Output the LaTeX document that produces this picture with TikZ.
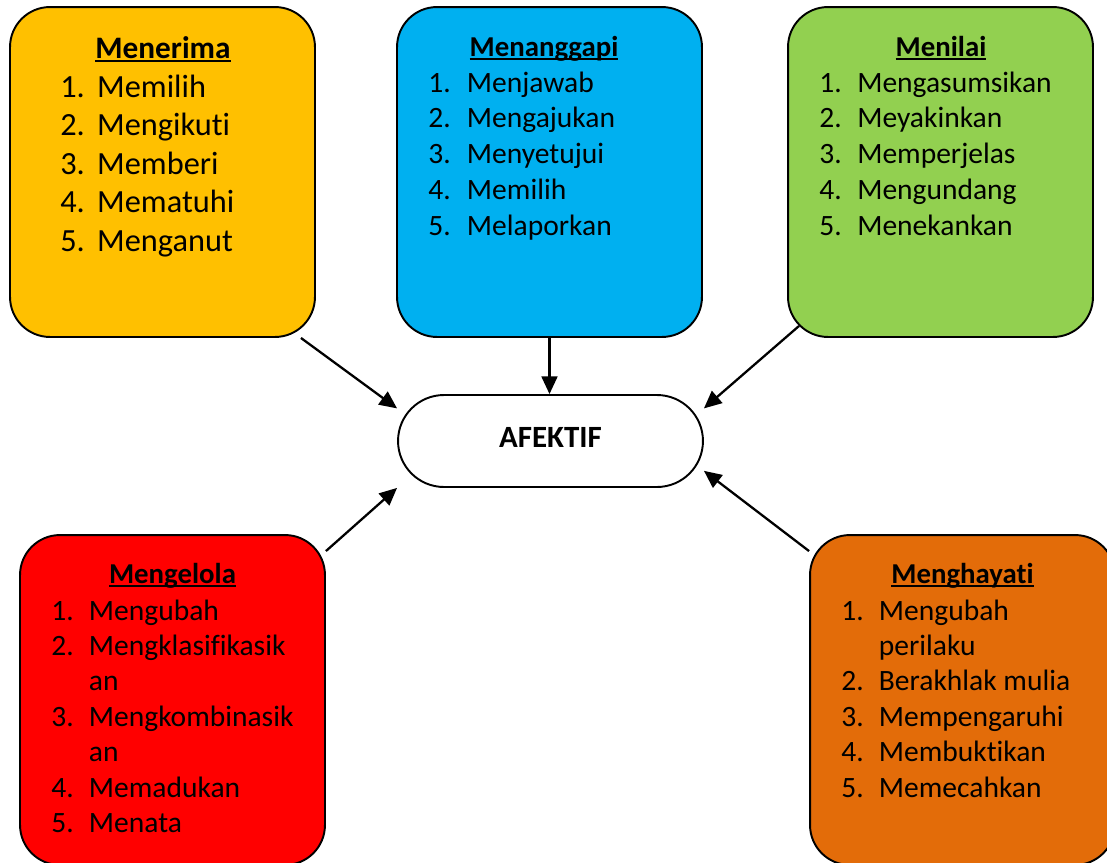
\documentclass[tikz,border=0pt]{standalone}
\usepackage{fontspec}
\setmainfont{Carlito}[Ligatures=NoCommon]
\usetikzlibrary{arrows.meta}
\definecolor{kuning}{HTML}{FFC000}
\definecolor{biru}{HTML}{00B0F0}
\definecolor{hijau}{HTML}{92D050}
\definecolor{merah}{HTML}{FF0000}
\definecolor{oranye}{HTML}{E36C09}
\newcommand\garis[1]{\setbox0\hbox{#1}\rlap{\rule[-2.4pt]{\wd0}{1.1pt}}\box0}
\tikzset{
  kotak/.style={draw, line width=1.1pt, rounded corners=0.8cm, minimum width=6.1cm, minimum height=6.6cm, inner sep=0pt},
  judul/.style={anchor=base, inner sep=0pt, font=\fontsize{16.4}{20.4}\selectfont\bfseries},
  isi/.style={anchor=base west, inner sep=0pt, font=\fontsize{16.8}{20.4}\selectfont},
  panah/.style={-{Triangle[length=10pt,width=9pt]}, line width=1.3pt}
}
\begin{document}
\begin{tikzpicture}[x=0.02cm,y=-0.02cm]
\useasboundingbox (0,0) rectangle (1107,863);
\clip (0,0) rectangle (1107,863);
\node[kotak, fill=kuning] (menerima) at (162.5,172) {};
\node[kotak, fill=biru] (menanggapi) at (549.5,172) {};
\node[kotak, fill=hijau] (menilai) at (940.5,172) {};
\node[kotak, fill=merah] (mengelola) at (172.5,700) {};
\node[kotak, fill=oranye] (menghayati) at (962.5,700) {};
\node[draw, line width=1.1pt, rounded corners=0.92cm, minimum width=6.1cm, minimum height=1.84cm, fill=white] (afektif) at (550.5,441) {};
\node[judul, font=\fontsize{17.6}{20}\selectfont\bfseries] (afektiftxt) at (550.5,447) {AFEKTIF};

\node[judul, font=\fontsize{17.8}{22}\selectfont\bfseries] (t1) at (163,58) {\garis{Menerima}};
\node[isi, font=\fontsize{18.4}{22}\selectfont] (l1) at (60,97) {\begin{tabular}[t]{@{}p{21pt}@{}l@{}}
1.&Memilih\\2.&Mengikuti\\3.&Memberi\\4.&Mematuhi\\5.&Menganut\end{tabular}};

\node[judul] (t2) at (544,56) {\garis{Menanggapi}};
\node[isi] (l2) at (428,92) {\begin{tabular}[t]{@{}p{22pt}@{}l@{}}
1.&Menjawab\\2.&Mengajukan\\3.&Menyetujui\\4.&Memilih\\5.&Melaporkan\end{tabular}};

\node[judul] (t3) at (941,56) {\garis{Menilai}};
\node[isi] (l3) at (819,92) {\begin{tabular}[t]{@{}p{21.6pt}@{}l@{}}
1.&Mengasumsikan\\2.&Meyakinkan\\3.&Memperjelas\\4.&Mengundang\\5.&Menekankan\end{tabular}};

\node[judul] (t4) at (172.5,583) {\garis{Mengelola}};
\node[isi, font=\fontsize{16.8}{20.2}\selectfont] (l4) at (51,620) {\begin{tabular}[t]{@{}p{21.4pt}@{}l@{}}
1.&Mengubah\\2.&Mengklasifikasik\\&an\\3.&Mengkombinasik\\&an\\4.&Memadukan\\5.&Menata\end{tabular}};

\node[judul] (t5) at (962.5,583) {\garis{Menghayati}};
\node[isi, font=\fontsize{16.8}{20.2}\selectfont] (l5) at (841,620) {\begin{tabular}[t]{@{}p{21.4pt}@{}l@{}}
1.&Mengubah\\&perilaku\\2.&Berakhlak mulia\\3.&Mempengaruhi\\4.&Membuktikan\\5.&Memecahkan\end{tabular}};

\draw[panah] ([shift={(-15,0)}]menerima.south east) -- (afektif.168);
\draw[panah] (menanggapi.south) -- (menanggapi.south |- afektif.north);
\draw[panah] ([shift={(12,-12)}]menilai.south west) -- (afektif.12);
\draw[panah] ([shift={(0,17)}]mengelola.north east) -- (afektif.197);
\draw[panah] ([shift={(0,17)}]menghayati.north west) -- (afektif.-11);
\end{tikzpicture}
\end{document}
